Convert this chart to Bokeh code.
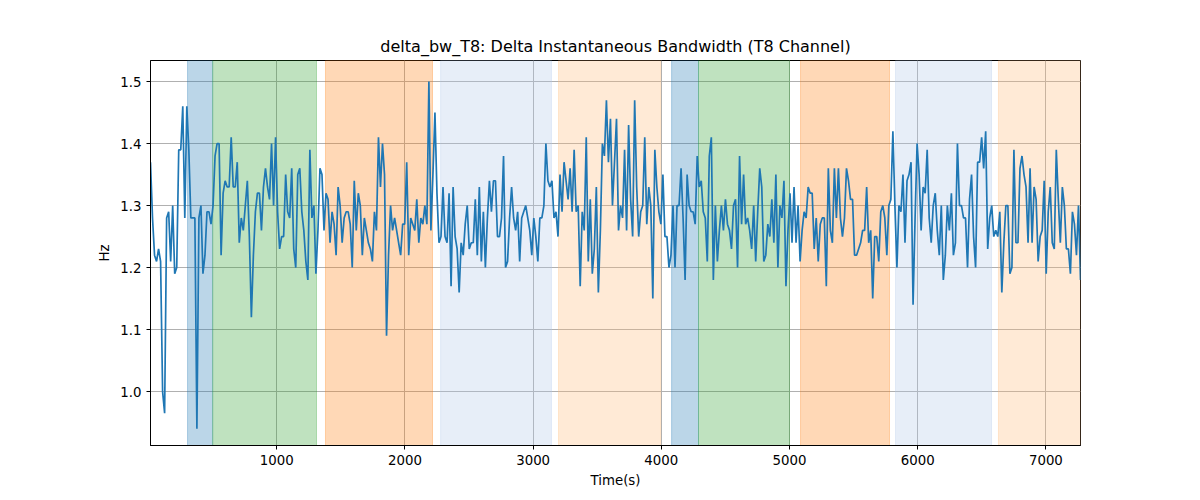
import numpy as np
from bokeh.plotting import figure
from bokeh.models import BoxAnnotation, FixedTicker, NumeralTickFormatter
from bokeh.embed import file_html
from bokeh.resources import INLINE

seg1 = [1.37,1.28,1.22,1.21,1.23,1.21,1.0,0.965,1.28,1.29,1.21,1.30,1.19,1.2,1.39,1.39,1.46,1.28,1.46,1.39,1.28,1.28,1.28,0.94,1.28,1.30,1.19,1.22,1.29,1.29,1.27,1.30,1.38,1.40,1.40,1.22,1.32,1.34,1.33,1.33,1.41,1.33,1.33,1.37,1.24,1.28,1.26,1.30,1.34,1.25,1.12,1.22,1.29,1.32,1.32,1.26,1.33,1.36,1.33,1.31,1.40,1.30,1.41,1.29,1.23,1.25,1.25,1.35,1.29,1.28,1.36,1.23,1.20,1.35,1.36,1.29,1.26,1.21,1.18,1.39,1.28,1.30,1.19,1.26,1.36,1.35,1.26,1.32,1.31,1.24,1.29,1.27,1.22,1.33,1.30,1.24,1.28,1.29,1.29,1.27,1.20,1.34,1.26,1.32,1.30,1.22,1.28,1.26,1.24,1.23,1.21,1.29,1.26,1.41,1.33]
seg2 = [1.40,1.35,1.09,1.22,1.30,1.26,1.28,1.26,1.24,1.22,1.27,1.27,1.37,1.22,1.28,1.27,1.26,1.31,1.24,1.28,1.27,1.30,1.27,1.50,1.26,1.35,1.45,1.32,1.24,1.25,1.33,1.25,1.24,1.32,1.17,1.33,1.25,1.23,1.16,1.24,1.22,1.27,1.30,1.23,1.24,1.24,1.31,1.22,1.33,1.21,1.29,1.20,1.28,1.34,1.29,1.34,1.34,1.25,1.25,1.28,1.38,1.20,1.21,1.28,1.33,1.28,1.26,1.29,1.21,1.28,1.29,1.30,1.28,1.26,1.22,1.28,1.25,1.21,1.28,1.28,1.30,1.40,1.34,1.33,1.34,1.28,1.29,1.25,1.35,1.29,1.37,1.34,1.31,1.36,1.29,1.39,1.29,1.30,1.17,1.29,1.26,1.41,1.21,1.31,1.19,1.23,1.33,1.16,1.26,1.40,1.38,1.47,1.37,1.44,1.30]
seg3 = [1.37,1.44,1.26,1.30,1.28,1.39,1.26,1.43,1.31,1.25,1.47,1.33,1.25,1.29,1.30,1.41,1.27,1.33,1.30,1.15,1.39,1.33,1.29,1.27,1.35,1.25,1.25,1.20,1.22,1.30,1.20,1.30,1.30,1.36,1.28,1.18,1.35,1.30,1.29,1.29,1.27,1.38,1.33,1.34,1.29,1.28,1.21,1.38,1.41,1.18,1.30,1.21,1.26,1.30,1.26,1.31,1.27,1.26,1.23,1.30,1.31,1.20,1.38,1.27,1.35,1.27,1.28,1.26,1.23,1.30,1.21,1.29,1.36,1.33,1.21,1.22,1.27,1.25,1.31,1.24,1.35,1.20,1.30,1.28,1.34,1.17,1.26,1.32,1.24,1.33,1.24,1.30,1.21,1.26,1.29,1.28,1.33,1.32,1.32,1.23,1.28,1.21,1.27,1.28,1.28,1.17,1.36,1.26,1.24,1.36,1.28]
seg4 = [1.36,1.28,1.25,1.28,1.36,1.34,1.31,1.31,1.22,1.22,1.23,1.24,1.26,1.26,1.33,1.24,1.26,1.15,1.25,1.25,1.21,1.29,1.30,1.28,1.22,1.30,1.31,1.42,1.30,1.20,1.30,1.29,1.35,1.24,1.34,1.35,1.37,1.14,1.28,1.40,1.35,1.26,1.33,1.32,1.39,1.28,1.24,1.30,1.32,1.26,1.22,1.30,1.18,1.22,1.30,1.26,1.32,1.22,1.24,1.40,1.30,1.30,1.28,1.28,1.20,1.31,1.35,1.25,1.20,1.37,1.37,1.41,1.36,1.42,1.23,1.28,1.30,1.25,1.26,1.25,1.29,1.16,1.24,1.30,1.30,1.19,1.20,1.39,1.24,1.24,1.36,1.38,1.35,1.33,1.24,1.36,1.24,1.33,1.31,1.21,1.25,1.26,1.34,1.19,1.29,1.33,1.24,1.23,1.39,1.31,1.24,1.33,1.30,1.23,1.23,1.19,1.29,1.27,1.22,1.30,1.18]

values = seg1 + seg2 + seg3 + seg4
t_start, t_end = 15, 7270
times = np.linspace(t_start, t_end, len(values))

span_left = [304, 500, 1380, 2278, 3198, 4080, 4290, 5086, 5827, 6630]
span_right = [500, 1310, 2215, 3143, 3994, 4290, 5000, 5780, 6576, 7270]
span_color = ["#1f77b4", "#2ca02c", "#ff7f0e", "#aec7e8", "#ffbb78",
              "#1f77b4", "#2ca02c", "#ff7f0e", "#aec7e8", "#ffbb78"]

p = figure(output_backend="svg", toolbar_location=None,
           x_range=(t_start, t_end), y_range=(0.913, 1.534),
           title="delta_bw_T8: Delta Instantaneous Bandwidth (T8 Channel)",
           x_axis_label="Time(s)", y_axis_label="Hz",
           min_border_left=150, min_border_right=104, min_border_top=60, min_border_bottom=20)
p.frame_width = 930
p.frame_height = 385
p.title.align = "center"
p.title.text_font = "DejaVu Sans"
p.title.text_font_size = "12pt"
p.title.text_font_style = "normal"
p.title.text_color = "black"

for l, r, c in zip(span_left, span_right, span_color):
    p.add_layout(BoxAnnotation(left=l, right=r, fill_color=c, fill_alpha=0.3,
                               line_color=c, line_alpha=0.3, level="underlay"))

p.line(times, values, line_color="#1f77b4", line_width=1.7)

p.xaxis.ticker = FixedTicker(ticks=[1000, 2000, 3000, 4000, 5000, 6000, 7000])
p.yaxis.ticker = FixedTicker(ticks=[1.0, 1.1, 1.2, 1.3, 1.4, 1.5])
p.yaxis.formatter = NumeralTickFormatter(format="0.0")
for ax in (p.xaxis[0], p.yaxis[0]):
    ax.axis_label_text_font = "DejaVu Sans"
    ax.axis_label_text_font_style = "normal"
    ax.axis_label_text_font_size = "10pt"
    ax.axis_label_text_color = "black"
    ax.major_label_text_font = "DejaVu Sans"
    ax.major_label_text_font_size = "10pt"
    ax.major_label_text_color = "black"
    ax.axis_line_color = "black"
    ax.major_tick_line_color = "black"
    ax.minor_tick_line_color = None
    ax.major_tick_out = 4
    ax.major_tick_in = 0
p.grid.grid_line_color = "#b0b0b0"
p.grid.grid_line_alpha = 1.0
p.outline_line_color = "black"
p.outline_line_alpha = 1.0

open("out.html", "w").write(file_html(p, INLINE))
